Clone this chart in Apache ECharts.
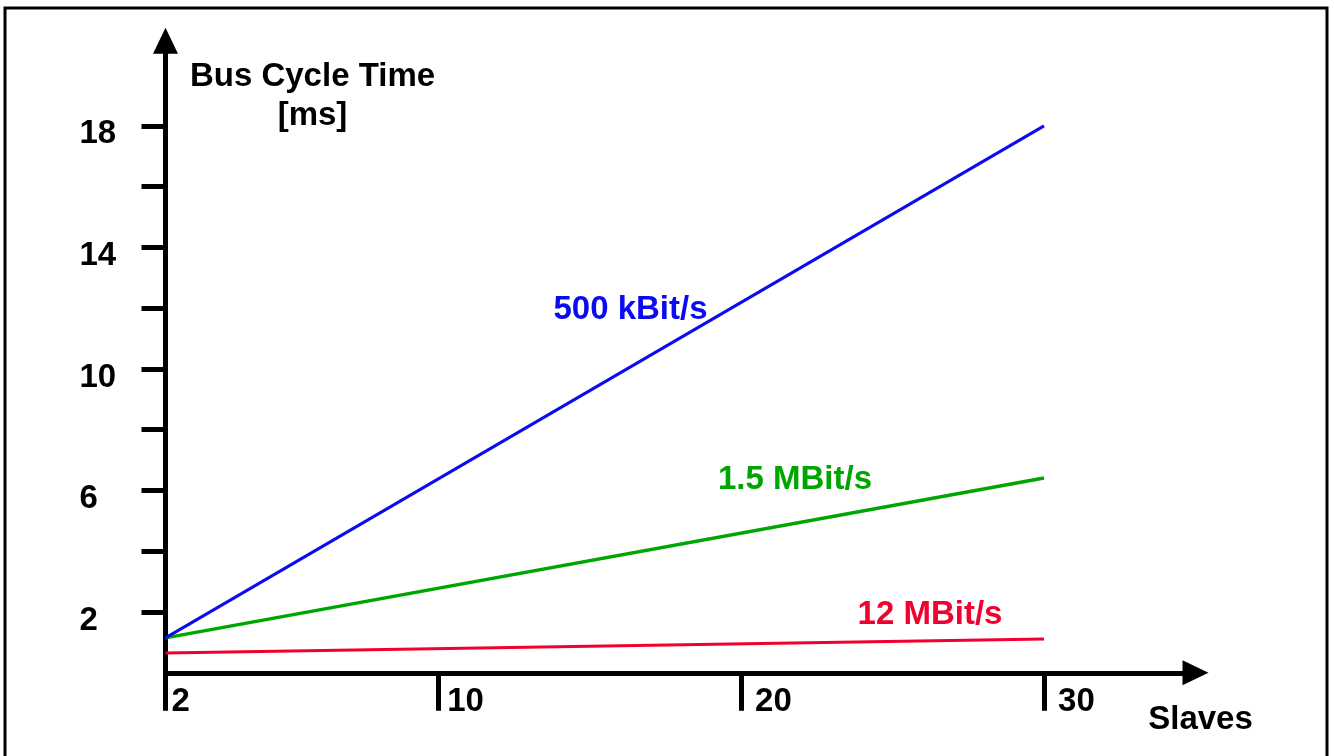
<!DOCTYPE html>
<html>
<head>
<meta charset="utf-8">
<script src="https://cdn.jsdelivr.net/npm/echarts@6.0.0/dist/echarts.min.js"></script>
<style>
html,body{margin:0;padding:0;background:#fff;}
#chart{width:1334px;height:756px;}
</style>
</head>
<body>
<div id="chart"></div>
<script>
// ---- data ----
const slaves = [1, 30];                 // line start (axis origin) and end
const rate500k = [1.15, 18.0];
const rate1_5M = [1.15, 6.41];
const rate12M = [0.65, 1.11];
const seriesNames = ['500 kBit/s', '1.5 MBit/s', '12 MBit/s'];
const xTickValues = [1, 10, 20, 30];
const xTickLabels = ['2', '10', '20', '30'];
const yTickValues = [2, 4, 6, 8, 10, 12, 14, 16, 18];
const yLabelValues = [2, 6, 10, 14, 18];
const yAxisTitle = ['Bus Cycle Time', '[ms]'];
const xAxisTitle = 'Slaves';

const FONT = 'Liberation Sans, Arial, sans-serif';
const BLUE = '#0b0bf0', GREEN = '#00a600', RED = '#f2002f';

function pairs(xs, ys) { return xs.map((x, i) => [x, ys[i]]); }

const chart = echarts.init(document.getElementById('chart'), null, {renderer: 'canvas'});
const txt = (text, x, y, color) => ({
  type: 'text', x: x, y: y, silent: true,
  style: {text: text, fill: color, font: 'bold 33px ' + FONT, textAlign: 'center', textVerticalAlign: 'middle'}
});
const lab = pad => ({padding: [0, 0, 0, pad], color: '#000', fontFamily: FONT, fontWeight: 'bold', fontSize: 33});

chart.setOption({
  animation: false,
  backgroundColor: '#fff',
  grid: {left: 165.5, right: 138.5, top: 40.8, bottom: 83.2},
  xAxis: {
    type: 'value', min: 1, max: 35,
    splitLine: {show: false},
    axisLine: {show: true, lineStyle: {color: '#000', width: 5}, symbol: ['none', 'triangle'], symbolSize: [25, 26]},
    axisTick: {show: true, customValues: xTickValues, length: 38, lineStyle: {color: '#000', width: 5}},
    axisLabel: {
      show: true, customValues: xTickValues, margin: 13, align: 'left',
      color: '#000', fontFamily: FONT, fontWeight: 'bold', fontSize: 33,
      formatter: v => {
        const i = xTickValues.indexOf(v);
        const s = i >= 0 ? xTickLabels[i] : '';
        return ['{a|', '{b|', '{c|', '{c|'][i] + s + '}';
      },
      rich: {a: lab(6), b: lab(9), c: lab(14)}
    }
  },
  yAxis: {
    type: 'value', min: 0, max: 20.8,
    splitLine: {show: false},
    axisLine: {show: true, lineStyle: {color: '#000', width: 5}, symbol: ['none', 'triangle'], symbolSize: [25, 26]},
    axisTick: {show: true, customValues: yTickValues, length: 24, lineStyle: {color: '#000', width: 5}},
    axisLabel: {
      show: true, customValues: yLabelValues, margin: 86, align: 'left',
      verticalAlign: 'top', lineHeight: 17,
      color: '#000', fontFamily: FONT, fontWeight: 'bold', fontSize: 33
    }
  },
  series: [
    {name: seriesNames[0], type: 'line', data: pairs(slaves, rate500k), symbol: 'none', lineStyle: {color: BLUE, width: 3}, z: 3},
    {name: seriesNames[1], type: 'line', data: pairs(slaves, rate1_5M), symbol: 'none', lineStyle: {color: GREEN, width: 3.5}, z: 2},
    {name: seriesNames[2], type: 'line', data: pairs(slaves, rate12M), symbol: 'none', lineStyle: {color: RED, width: 3}, z: 2}
  ],
  graphic: [
    {type: 'rect', silent: true, shape: {x: 5, y: 8, width: 1322, height: 800},
     style: {fill: 'none', stroke: '#000', lineWidth: 3}},
    txt(yAxisTitle[0], 312.5, 77, '#000'),
    txt(yAxisTitle[1], 312.5, 116, '#000'),
    txt(xAxisTitle, 1200.5, 719.5, '#000'),
    txt(seriesNames[0], 630.5, 309.5, BLUE),
    txt(seriesNames[1], 795, 479.5, GREEN),
    txt(seriesNames[2], 930, 614.5, RED)
  ]
});
</script>
</body>
</html>
